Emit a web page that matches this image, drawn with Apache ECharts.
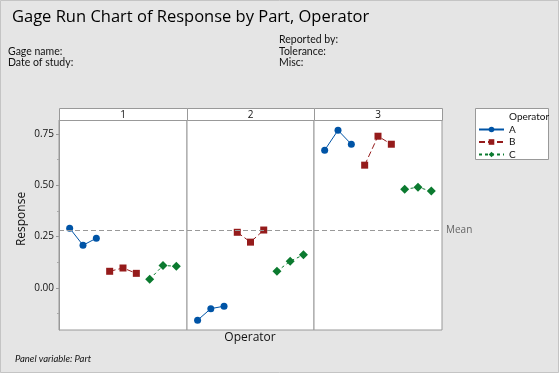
<!DOCTYPE html>
<html><head><meta charset="utf-8">
<script src="https://cdn.jsdelivr.net/npm/echarts@6/dist/echarts.min.js"></script>
<style>html,body{margin:0;padding:0;background:#e5e5e5}#c{width:559px;height:373px}</style>
</head><body><div id="c"></div>
<script>
const parts = ['1', '2', '3'];
const operators = ['A', 'B', 'C'];
const trials = 3;
// Response values, in order: part 1 (3 trials), part 2 (3 trials), part 3 (3 trials)
const responseA = [0.291, 0.208, 0.242, -0.157, -0.101, -0.089, 0.671, 0.768, 0.700];
const responseB = [0.081, 0.097, 0.071, 0.271, 0.223, 0.282, 0.598, 0.739, 0.700];
const responseC = [0.042, 0.109, 0.106, 0.081, 0.130, 0.161, 0.481, 0.490, 0.472];
const yTickValues = [0, 0.25, 0.5, 0.75];
const yMinorValues = [-0.125, 0.125, 0.375, 0.625];

const responses = [responseA, responseB, responseC];
const allVals = responses.flat();
const mean = allVals.reduce((a, b) => a + b, 0) / allVals.length;

const FONT = 'Open Sans';
const SMALL = 'Lato';
const colors = ['#0054a6', '#951b1b', '#0b7a2f'];
const symbols = ['circle', 'rect', 'diamond'];
const symbolSizes = [7, 7, 9];
const lineTypes = ['solid', [6, 3], [3, 3]];

const panelLefts = [59, 187, 314];
const panelWidths = [128, 127, 128];
const plotTop = 120, plotBottom = 330, stripTop = 108;

const grids = [], xAxes = [], yAxes = [], series = [], graphics = [];
parts.forEach((p, pi) => {
  grids.push({left: panelLefts[pi], top: plotTop, width: panelWidths[pi], height: plotBottom - plotTop,
    show: true, backgroundColor: '#fff', borderColor: '#999', borderWidth: 1});
  xAxes.push({type: 'value', gridIndex: pi, min: 0.2, max: operators.length * trials + 0.8, show: false});
  yAxes.push({type: 'value', gridIndex: pi, position: 'left', min: -0.205, max: 0.818,
    axisLine: {show: pi === 0, lineStyle: {color: '#999'}},
    axisTick: {show: pi === 0, customValues: yTickValues, length: 3, lineStyle: {color: '#999'}},
    axisLabel: {show: pi === 0, customValues: yTickValues, formatter: v => v.toFixed(2),
      fontFamily: FONT, fontSize: 10, color: '#111', margin: 5},
    splitLine: {show: false}});
  graphics.push({type: 'rect', shape: {x: panelLefts[pi] + 0.5, y: stripTop + 0.5, width: panelWidths[pi], height: plotTop - stripTop},
    style: {fill: '#fff', stroke: '#999', lineWidth: 1}});
  graphics.push({type: 'text', x: panelLefts[pi] + panelWidths[pi] / 2, y: stripTop + 7,
    style: {text: p, fontFamily: FONT, fontSize: 10, fill: '#111', align: 'center', verticalAlign: 'middle'}});
  operators.forEach((op, oi) => {
    const data = [];
    for (let t = 0; t < trials; t++) data.push([oi * trials + t + 1, responses[oi][pi * trials + t]]);
    const s = {type: 'line', name: op, xAxisIndex: pi, yAxisIndex: pi, data,
      symbol: symbols[oi], symbolSize: symbolSizes[oi], showSymbol: true,
      itemStyle: {color: colors[oi]}, lineStyle: {color: colors[oi], width: 1, type: lineTypes[oi]},
      animation: false};
    if (oi === 0) {
      s.markLine = {silent: true, symbol: 'none', animation: false,
        lineStyle: {color: '#999', type: [5, 3], width: 1},
        label: {show: pi === parts.length - 1, position: 'end', formatter: 'Mean', fontFamily: FONT, fontSize: 10, color: '#666', distance: 4},
        data: [{yAxis: mean}]};
    }
    series.push(s);
  });
});
// minor ticks on first panel
yAxes.push({type: 'value', gridIndex: 0, position: 'left', min: -0.205, max: 0.818, axisLine: {show: false},
  axisTick: {show: true, customValues: yMinorValues, length: 2, lineStyle: {color: '#aaa'}},
  axisLabel: {show: false}, splitLine: {show: false}});

const textStyle = (t, x, y, size, fam, extra) => ({type: 'text', x, y,
  style: Object.assign({text: t, fontFamily: fam, fontSize: size, fill: '#111', verticalAlign: 'middle'}, extra || {})});

graphics.push({type: 'rect', shape: {x: 0.5, y: 0.5, width: 558, height: 372}, style: {fill: 'none', stroke: '#c4c4c4', lineWidth: 1}, z: 100});
graphics.push(textStyle('Gage Run Chart of Response by Part, Operator', 12, 17, 16.5, FONT, {fill: '#000'}));
graphics.push(textStyle('Gage name:', 8, 52, 10.5, SMALL));
graphics.push(textStyle('Date of study:', 8, 63, 10.5, SMALL));
graphics.push(textStyle('Reported by:', 279, 40, 10.5, SMALL));
graphics.push(textStyle('Tolerance:', 279, 52, 10.5, SMALL));
graphics.push(textStyle('Misc:', 279, 63, 10.5, SMALL));
graphics.push({type: 'text', x: 22, y: 219, rotation: Math.PI / 2,
  style: {text: 'Response', fontFamily: FONT, fontSize: 12, fill: '#111', align: 'center', verticalAlign: 'middle'}});
graphics.push({type: 'text', x: 250, y: 338,
  style: {text: 'Operator', fontFamily: FONT, fontSize: 12, fill: '#111', align: 'center', verticalAlign: 'middle'}});
graphics.push({type: 'text', x: 15, y: 359,
  style: {text: 'Panel variable: Part', fontFamily: SMALL, fontSize: 9.5, fontStyle: 'italic', fill: '#111', verticalAlign: 'middle'}});
// legend box
graphics.push({type: 'rect', shape: {x: 475.5, y: 108.5, width: 73, height: 51}, style: {fill: '#fff', stroke: '#999', lineWidth: 1}, z: 0});
graphics.push({type: 'text', x: 509, y: 117, z: 10,
  style: {text: 'Operator', fontFamily: SMALL, fontSize: 10, fill: '#111', verticalAlign: 'middle'}});

const chart = echarts.init(document.getElementById('c'), null, {renderer: 'canvas'});
chart.setOption({
  backgroundColor: '#e5e5e5',
  animation: false,
  grid: grids, xAxis: xAxes, yAxis: yAxes, series,
  legend: {data: operators, orient: 'vertical', left: 478, top: 124.5, itemWidth: 25, itemHeight: 7, itemGap: 2.5,
    padding: 0, textStyle: {fontFamily: SMALL, fontSize: 10, lineHeight: 9, color: '#111', padding: [0, 0, 0, 0]}, z: 20},
  graphic: graphics
});
</script></body></html>
